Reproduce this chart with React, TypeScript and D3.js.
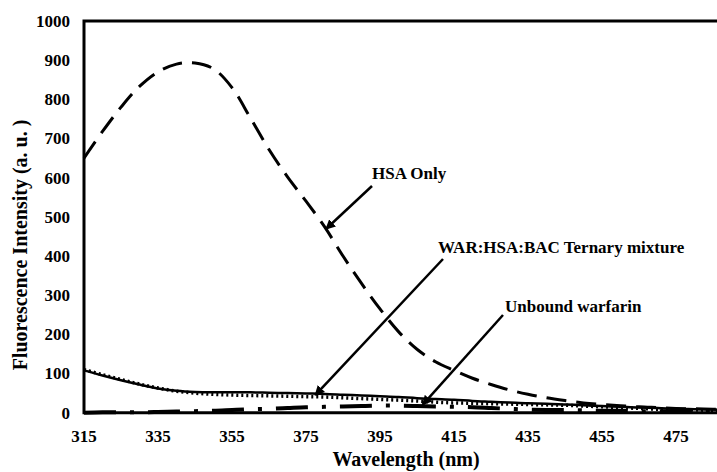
import React from "react";
import * as d3 from "d3";

// wavelengths (nm) shared by all series
const wavelengths = [
  315, 320, 325, 330, 335, 340, 345, 350, 355, 360, 365, 370, 375, 380, 385, 390, 395, 400,
  405, 410, 415, 420, 425, 430, 435, 440, 445, 450, 455, 460, 465, 470, 475, 480, 485, 490,
];
const hsaOnly = [
  650, 718, 780, 833, 870, 890, 893, 878, 830, 752, 672, 602, 540, 475, 400, 330, 265, 207,
  162, 130, 108, 88, 72, 58, 47, 38, 31, 25, 21, 18, 15, 13, 11, 10, 9, 8,
];
const ternarySolid = [
  108, 95, 83, 72, 62, 56, 53, 52, 52, 52, 51, 50, 49, 48, 46, 44, 42, 40,
  37, 35, 33, 30, 28, 26, 24, 23, 21, 19, 17, 15, 13, 12, 10, 9, 8, 7,
];
const ternaryDotted = [
  110, 97, 85, 73, 63, 55, 50, 47, 45, 44, 43, 42, 41, 40, 38, 36, 34, 32,
  30, 27, 25, 24, 23, 22, 21, 20, 19, 17, 15, 13, 11, 9, 8, 7, 6, 5,
];
const unboundWarfarin = [
  0, 1, 1, 1, 2, 3, 4, 5, 7, 9, 10, 12, 14, 15, 16, 17, 18, 18,
  17, 16, 15, 14, 12, 10, 8, 7, 7, 6, 5, 5, 4, 4, 3, 3, 3, 2,
];
const xTicks = [315, 335, 355, 375, 395, 415, 435, 455, 475];
const yTicks = [0, 100, 200, 300, 400, 500, 600, 700, 800, 900, 1000];

const W = 717;
const H = 472;
const left = 84;
const top = 21;
const bottom = 412.7;
const font = "Liberation Serif, DejaVu Serif, serif";

export default function App() {
  const x = d3.scaleLinear().domain([315, 490]).range([left, left + 175 * 3.7]);
  const y = d3.scaleLinear().domain([0, 1000]).range([bottom, top]);

  const line = (vals: number[]) =>
    d3
      .line<number>()
      .x((_, i) => x(wavelengths[i]))
      .y((d) => y(d))
      .curve(d3.curveCatmullRom)(vals) || "";

  // annotation arrows: label position, line start (px), arrow tip (data coords)
  const notes = [
    { tx: 372, ty: 179, label: "HSA Only", from: [372, 186], to: [380.4, 469] },
    { tx: 438, ty: 253, label: "WAR:HSA:BAC Ternary mixture", from: [443, 259], to: [377.5, 45] },
    { tx: 505, ty: 312, label: "Unbound warfarin", from: [503, 315], to: [406.5, 20] },
  ];

  return (
    <svg
      width={W}
      height={H}
      style={{ position: "absolute", left: 0, top: 0, background: "#fff", fontFamily: font, fontWeight: "bold" }}
    >
      <defs>
        <marker id="arrow" viewBox="0 0 10 10" refX="9" refY="5" markerWidth="4" markerHeight="4" orient="auto">
          <path d="M0,0 L10,5 L0,10 z" fill="#000" />
        </marker>
      </defs>

      {/* series */}
      <path d={line(hsaOnly)} fill="none" stroke="#000" strokeWidth={3} strokeDasharray="20,10" />
      <path d={line(ternaryDotted)} fill="none" stroke="#000" strokeWidth={3.5} strokeDasharray="2,3" />
      <path d={line(ternarySolid)} fill="none" stroke="#000" strokeWidth={2.5} />
      <path d={line(unboundWarfarin)} fill="none" stroke="#000" strokeWidth={4} strokeDasharray="32,14,4,14" />

      {/* frame */}
      <path d={`M${W + 5},${top} H${left} V${bottom} H${W + 5}`} fill="none" stroke="#000" strokeWidth={3} />

      {/* y ticks */}
      {yTicks.map((t) => (
        <text key={t} x={70} y={y(t)} dy="0.35em" textAnchor="end" fontSize={17}>
          {t}
        </text>
      ))}
      {/* x ticks */}
      {xTicks.map((t) => (
        <text key={t} x={x(t)} y={442} textAnchor="middle" fontSize={17}>
          {t}
        </text>
      ))}

      <text x={406} y={466} textAnchor="middle" fontSize={20}>
        Wavelength (nm)
      </text>
      <text transform={`translate(27,245) rotate(-90)`} textAnchor="middle" fontSize={20}>
        Fluorescence Intensity (a. u. )
      </text>

      {notes.map((n) => (
        <g key={n.label}>
          <text x={n.tx} y={n.ty} fontSize={17}>
            {n.label}
          </text>
          <line
            x1={n.from[0]}
            y1={n.from[1]}
            x2={x(n.to[0])}
            y2={y(n.to[1])}
            stroke="#000"
            strokeWidth={2.5}
            markerEnd="url(#arrow)"
          />
        </g>
      ))}
    </svg>
  );
}
